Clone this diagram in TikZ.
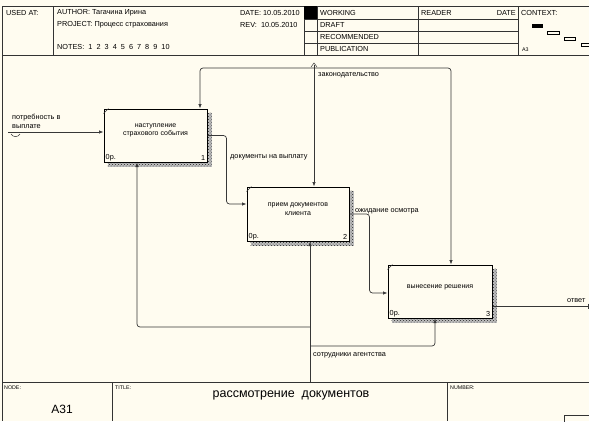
\documentclass[tikz,border=0pt]{standalone}
\usepackage{fontspec}
\setmainfont{Liberation Sans}
\usetikzlibrary{positioning, arrows.meta, patterns, calc, backgrounds}
\definecolor{PaperCream}{RGB}{255,252,240}
\definecolor{LineGray}{RGB}{55,55,55}

\tikzset{
  small text/.style={font=\fontsize{7.3}{8.5}\selectfont, inner sep=0pt, anchor=west},
  mini text/.style={font=\fontsize{5.3}{6}\selectfont, inner sep=0pt, anchor=west},
  actbox/.style={draw=black, line width=1pt, fill=PaperCream, minimum width=103pt, minimum height=53pt, inner sep=0pt},
  boxtext/.style={font=\fontsize{7}{8.5}\selectfont, align=center, inner sep=0pt},
  conn/.style={draw=LineGray, line width=0.7pt, rounded corners=3pt, -{Latex[length=4.5pt,width=3.5pt]}},
  shadow hatch/.style={pattern=crosshatch dots, pattern color=black!85},
  frame/.style={draw=black!80, line width=0.6pt}
}

\begin{document}
\begin{tikzpicture}[x=1pt, y=-1pt]
    \useasboundingbox (0,0) rectangle (589,421);

    % Activities
    \node[actbox] (act1) at (155.5,135.5) {};
    \node[actbox, minimum width=102pt, minimum height=54pt] (act2) at (298,214) {};
    \node[actbox, minimum width=104pt] (act3) at (440,291.5) {};
    \node[boxtext] (t1) at ($(act1)+(0,-5)$) {наступление\\страхового события};
    \node[boxtext] (t2) at ($(act2)+(0,-5)$) {прием документов\\клиента};
    \node[boxtext] (t3) at ($(act3)+(0,-4)$) {вынесение решения};
    \foreach \a/\n in {act1/1, act2/2, act3/3} {
      \node[small text, anchor=south west] (\a-cost) at ($(\a.south west)+(2,-1.5)$) {0р.};
      \node[small text, anchor=south east] (\a-num) at ($(\a.south east)+(-2,-1.5)$) {\n};
      \draw[black!80, line width=0.5pt] ($(\a.north west)+(0,5)$) -- ($(\a.north west)+(5,0)$);
    }

    % Paper and shadows
    \begin{scope}[on background layer]
      \fill[PaperCream] (0,0) rectangle (589,421);
      \foreach \a in {act1, act2, act3} {
        \fill[black!25] ($(\a.north west)+(4,4)$) rectangle ($(\a.south east)+(4,4)$);
        \fill[shadow hatch] ($(\a.north west)+(4,4)$) rectangle ($(\a.south east)+(4,4)$);
      }
    \end{scope}

    % Input
    \coordinate (in1) at (8,132);
    \draw[conn] (in1) -- (act1.west |- in1);
    \draw[LineGray, line width=0.5pt] (11,134) .. controls (13,137.5) and (18,137.5) .. (20,134);
    \node[small text] (lin1) at (12,118) {потребность в};
    \node[small text] (lin2) at (12,127) {выплате};

    % Controls
    \coordinate (ctl) at (314,65);
    \coordinate (ctlbar) at (314,68);
    \coordinate (ctlL) at (200,68);
    \coordinate (ctlR) at (451,68);
    \draw[conn] (ctl) -- (act2.north -| ctl);
    \draw[conn] (ctlbar) -| (act1.north -| ctlL);
    \draw[conn] (ctlbar) -| (act3.north -| ctlR);
    \draw[LineGray, line width=0.5pt] (311,67) -- (314,63) -- (317,67);
    \node[small text] (lctl) at (318,75) {законодательство};

    % Outputs
    \coordinate (in2) at ($(act2.west)+(0,-10)$);
    \coordinate (in3) at ($(act3.west)+(0,1.5)$);
    \coordinate (out3) at ($(act3.east)+(0,14.5)$);
    \coordinate (ans) at (589,306);
    \draw[conn] (act1.east) -| ($(in2)+(-20,0)$) -- (in2);
    \draw[conn] (act2.east) -| ($(in3)+(-18,0)$) -- (in3);
    \draw[conn, -{Bar[width=5pt]}] (out3) -- (ans);
    \node[small text] (lout1) at (230,157) {документы на выплату};
    \node[small text] (lout2) at (355,211) {ожидание осмотра};
    \node[small text] (lout3) at (567,301) {ответ};

    % Mechanisms
    \coordinate (mech) at (310,382);
    \coordinate (mechL) at (137,327);
    \coordinate (mechR) at (435,346);
    \draw[conn] (mech) -- (act2.south -| mech);
    \draw[conn] (mech |- mechL) -| (act1.south -| mechL);
    \draw[conn] (mech |- mechR) -| (act3.south -| mechR);
    \node[small text] (lmech) at (313,355) {сотрудники агентства};

    % Header
    \draw[frame] (2,6) -- (589,6) (2,6) -- (2,421) (2,55) -- (589,55) (2,382) -- (589,382);
    \foreach \x in {53, 304, 317, 418, 518}
      \draw[frame] (\x,6) -- (\x,55);
    \foreach \y in {19, 31, 43}
      \draw[frame] (304,\y) -- (518,\y);
    \fill[black] (304,6) rectangle (317,19);
    \node[small text] (used) at (6,13) {USED AT:};
    \node[small text] (author) at (57,13) {AUTHOR:\ Тагачина Ирина};
    \node[small text] (project) at (57,25) {PROJECT:\ Процесс страхования};
    \node[small text] (notes) at (57,47) {NOTES:\ \ 1\ \ 2\ \ 3\ \ 4\ \ 5\ \ 6\ \ 7\ \ 8\ \ 9\ \ 10};
    \node[small text] (date) at (240,13) {DATE: 10.05.2010};
    \node[small text] (rev) at (240,25) {REV:\ \ 10.05.2010};
    \node[small text] (working) at (320,12.5) {WORKING};
    \node[small text] (draft) at (320,25) {DRAFT};
    \node[small text] (recom) at (320,37) {RECOMMENDED};
    \node[small text] (publ) at (320,49) {PUBLICATION};
    \node[small text] (reader) at (421,12.5) {READER};
    \node[small text, anchor=east] (rdate) at (516,12.5) {DATE};
    \node[small text] (context) at (521,12.5) {CONTEXT:};
    \node[mini text] (ctxnode) at (522,50) {A3};
    \fill[black] (532,24) rectangle (543,28);
    \draw[black, line width=0.5pt] (547,31) rectangle (559,34) (564,37) rectangle (575,40) (581,43) rectangle (592,46);

    % Footer
    \foreach \x in {112, 447}
      \draw[frame] (\x,382) -- (\x,421);
    \draw[frame] (564,415) rectangle (592,424);
    \node[mini text] (nodelbl) at (4,388) {NODE:};
    \node[mini text] (titlelbl) at (115,388) {TITLE:};
    \node[mini text] (numlbl) at (450,388) {NUMBER:};
    \node[font=\fontsize{12}{14}\selectfont, inner sep=0pt] (nodeid) at (62,409) {A31};
    \node[font=\fontsize{12.5}{14}\selectfont, inner sep=0pt] (title) at (291,395) {рассмотрение\ \ документов};
\end{tikzpicture}
\end{document}
